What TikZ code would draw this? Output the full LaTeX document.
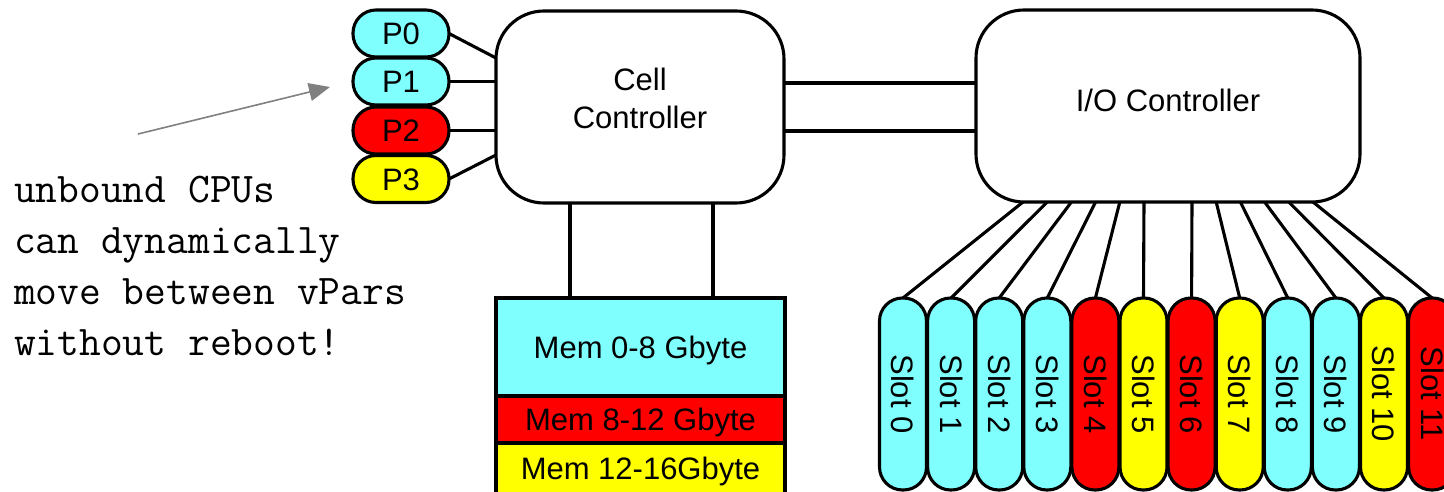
\documentclass[tikz,border=0pt]{standalone}
\usepackage{fontspec}
\setmainfont{Liberation Sans}
\usetikzlibrary{calc,arrows.meta}
\definecolor{partcyan}{HTML}{80FFFF}
\definecolor{partred}{HTML}{FF0000}
\definecolor{partyellow}{HTML}{FFFF00}
\definecolor{notegray}{HTML}{808080}

\begin{document}
\begin{tikzpicture}[x=1pt,y=1pt,
  every node/.style={inner sep=0pt, outer sep=0pt},
  lbl/.style={font=\fontsize{31}{38}\selectfont},
  ctrl/.style={draw, line width=3.1pt, rounded corners=48pt, fill=white, lbl, align=center},
  cpu/.style={draw, line width=3.1pt, rounded corners=23pt, minimum width=96pt,
    minimum height=47pt, lbl, text height=22pt, text depth=0pt},
  slotbox/.style={draw, line width=3.1pt, rounded corners=23pt, minimum width=47pt,
    minimum height=192pt, lbl},
  membox/.style={draw, line width=3.1pt, minimum width=289pt, lbl,
    text height=22pt, text depth=0pt},
  wire/.style={line width=3.1pt},
  note/.style={anchor=base west, font=\fontsize{42.3}{51}\ttfamily},
  pointer/.style={draw=notegray, line width=1.6pt,
    -{Triangle[length=21pt,width=18pt]}, color=notegray},
]
\useasboundingbox (0,0) rectangle (1444,491);

% controllers
\node[ctrl, minimum width=288pt, minimum height=192pt] (cell) at (640,384)
  {Cell\\Controller\rule[-17.6pt]{0pt}{17.6pt}};
\node[ctrl, minimum width=384pt, minimum height=192pt] (io) at (1168,385)
  {I/O Controller\rule[-10.6pt]{0pt}{10.6pt}};

% processors
\node[cpu, fill=partcyan]   (P0) at (401,457.5) {P0};
\node[cpu, fill=partcyan]   (P1) at (401,409.5) {P1};
\node[cpu, fill=partred]    (P2) at (401,360.5) {P2};
\node[cpu, fill=partyellow] (P3) at (401,312)   {P3};

% memory banks
\node[membox, fill=partcyan,   minimum height=98pt] (mem0) at (640.5,144)  {Mem 0-8 Gbyte};
\node[membox, fill=partred,    minimum height=47pt] (mem1) at (640.5,71.5) {Mem 8-12 Gbyte};
\node[membox, fill=partyellow, minimum height=51pt] (mem2) at (640.5,22.5) {Mem 12-16Gbyte};

% I/O slots
\foreach \i/\c in {0/partcyan,1/partcyan,2/partcyan,3/partcyan,4/partred,5/partyellow,
                   6/partred,7/partyellow,8/partcyan,9/partcyan,10/partyellow,11/partred} {
  \node[slotbox, fill=\c] (s\i) at ({903+48.1*\i},97) {\rotatebox{-90}{Slot \i}};
}

% processor links
\coordinate (cin0) at ($(cell.west)+(0,49)$);
\coordinate (cin3) at ($(cell.west)+(0,-48)$);
\draw[wire] (P0.east) -- (cin0);
\draw[wire] (P1.east) -- (P1.east -| cell.west);
\draw[wire] (P2.east) -- (P2.east -| cell.west);
\draw[wire] (P3.east) -- (cin3);

% cell to I/O links
\coordinate (x1) at ($(cell.east)+(0,24)$);
\coordinate (x2) at ($(cell.east)+(0,-24)$);
\draw[wire] (x1) -- (x1 -| io.west);
\draw[wire] (x2) -- (x2 -| io.west);

% cell to memory links
\coordinate (m1) at ($(cell.south)+(-70,0)$);
\coordinate (m2) at ($(cell.south)+(73,0)$);
\draw[wire] (m1) -- (m1 |- mem0.north);
\draw[wire] (m2) -- (m2 |- mem0.north);

% I/O to slot links
\foreach \i in {0,...,11} {
  \pgfmathsetmacro\dx{\i<6 ? -145+24.2*\i : 24+24.2*(\i-6)}
  \coordinate (t\i) at ($(io.south)+(\dx,0)$);
  \draw[wire] (s\i.north) -- (t\i);
}

% annotation
\foreach \t [count=\k] in {unbound CPUs,can dynamically,move between vPars,without reboot!} {
  \node[note] (note\k) at (14,{340-51*\k}) {\t};
}
\coordinate (tail) at (138,357);
\coordinate (tip) at (330,404);
\draw[pointer] (tail) -- (tip);
\end{tikzpicture}
\end{document}
